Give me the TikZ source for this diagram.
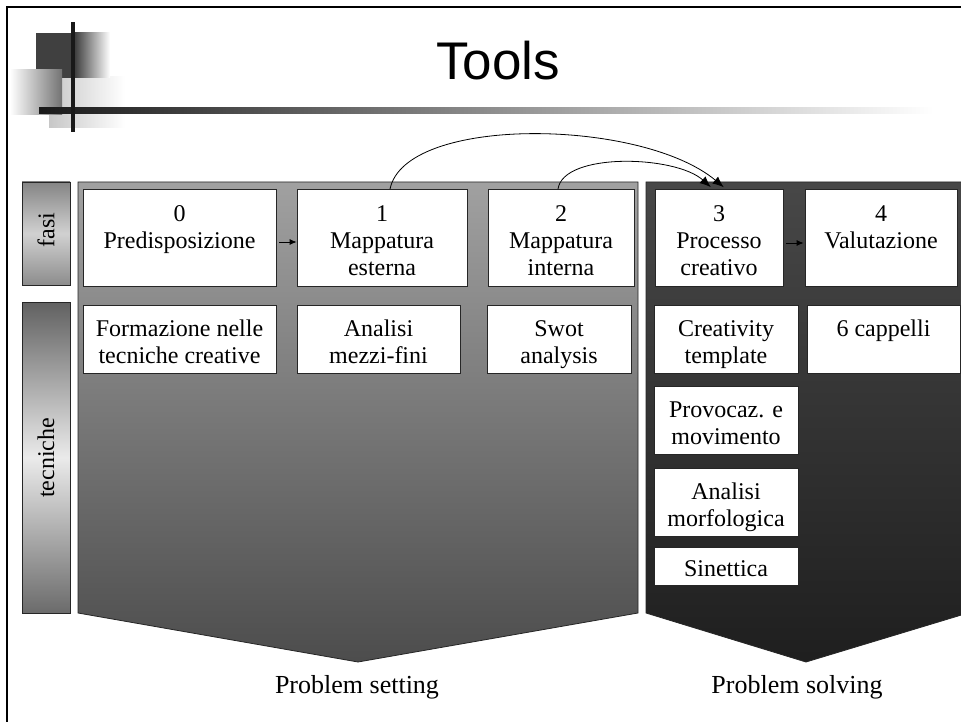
\documentclass[tikz,border=0pt]{standalone}
\usepackage{fontspec}
\setmainfont{Liberation Serif}
\newfontfamily\titlefont{Liberation Sans}
\usetikzlibrary{arrows.meta,shadings}
\newcommand{\myupstrut}{\rule{0pt}{27pt}}
\begin{document}
\begin{tikzpicture}[x=1pt,y=-1pt,
  box/.style={draw=black!85,fill=white,line width=0.8pt,inner sep=0pt,align=center,
    font=\fontsize{24}{27}\selectfont,execute at end node={\rule[-6pt]{0pt}{6pt}}},
  lbl/.style={font=\fontsize{26}{30}\selectfont},
  sidebox/.style={draw=black!85,line width=0.8pt},
  sidetext/.style={inner sep=0pt,font=\fontsize{24}{27}\selectfont,rotate=90},
  small arrow/.style={-{Latex[length=7pt,width=6pt]},line width=0.8pt},
  curve arrow/.style={-{Latex[length=11pt,width=9pt]},line width=0.8pt}]
\useasboundingbox (0,0) rectangle (961,722);
\fill[white] (0,0) rectangle (961,722);
% frame
\draw[line width=2.5pt] (7,730) -- (7,7) -- (970,7);
% logo
\shade[left color=black!22,right color=white] (49,77) rectangle (125,128);
\fill[black!75] (36,33) rectangle (75,78);
\shade[left color=black!75,right color=white] (75,33) rectangle (110,78);
\shade[left color=white,right color=black!55] (10,70) rectangle (62,115);
\shade[left color=black!90,right color=white] (39,108) rectangle (933,114);
\fill[black!90] (71,22) rectangle (75,132);
% title
\node[font=\titlefont\fontsize{53}{60}\selectfont,anchor=base] (title) at (498,80) {Tools};
% side labels
\shade[sidebox,top color=black!48,bottom color=black!45,middle color=black!18] (22,182) rectangle (70,285);
\shade[sidebox,top color=black!62,bottom color=black!58,middle color=black!8] (22,302) rectangle (70,613);
\draw[sidebox] (22,182) rectangle (70,285);
\draw[sidebox] (22,302) rectangle (70,613);
\node[sidetext] (fasi) at (46,230) {fasi};
\node[sidetext] (tec) at (46,458) {tecniche};
% panels
\draw[draw=black!85,line width=0.8pt,top color=black!37,bottom color=black!70]
  (78,182) -- (638,182) -- (638,613) -- (358,662) -- (78,613) -- cycle;
\draw[draw=black!85,line width=0.8pt,top color=black!72,bottom color=black!88]
  (646,182) -- (968,182) -- (968,613) -- (806,662) -- (646,613) -- cycle;
% phase boxes
\node[box,minimum width=193pt,minimum height=97pt] (b0) at (179.5,238) {\myupstrut 0\\Predisposizione\\\mbox{}};
\node[box,minimum width=170pt,minimum height=97pt] (b1) at (382,238) {\myupstrut 1\\Mappatura\\esterna};
\node[box,minimum width=146pt,minimum height=97pt] (b2) at (561,238) {\myupstrut 2\\Mappatura\\interna};
\node[box,minimum width=128pt,minimum height=97pt] (b3) at (719,238) {\myupstrut 3\\Processo\\creativo};
\node[box,minimum width=152pt,minimum height=97pt] (b4) at (881,238) {\myupstrut 4\\Valutazione\\\mbox{}};
% technique boxes
\node[box,minimum width=193pt,minimum height=68pt] (t0) at (179.5,339) {\myupstrut Formazione nelle\\tecniche creative};
\node[box,minimum width=163pt,minimum height=68pt] (t1) at (378.5,339) {\myupstrut Analisi\\mezzi-fini};
\node[box,minimum width=144pt,minimum height=68pt] (t2) at (559,339) {\myupstrut Swot\\analysis};
\node[box,minimum width=144pt,minimum height=68pt] (t3) at (726,339) {\myupstrut Creativity\\template};
\node[box,minimum width=153pt,minimum height=68pt] (t4) at (883.5,339) {\myupstrut 6 cappelli\\\mbox{}};
\node[box,minimum width=144pt,minimum height=68pt] (t5) at (726,420) {\myupstrut Provocaz. e\\movimento};
\node[box,minimum width=144pt,minimum height=68pt] (t6) at (726,502) {\myupstrut Analisi\\morfologica};
\node[box,minimum width=144pt,minimum height=38pt] (t7) at (726,566) {\myupstrut Sinettica};
% arrows
\draw[small arrow,shorten <=3pt] ([yshift=-4pt]b0.east) -- ([yshift=-4pt]b1.west);
\draw[small arrow,shorten <=3pt,shorten >=1pt] ([yshift=-5pt]b3.east) -- ([yshift=-5pt]b4.west);
\draw[curve arrow,shorten >=3pt] ([xshift=8pt]b1.north) .. controls +(15,-74) and +(-85,-71) .. ([xshift=7pt]b3.north);
\draw[curve arrow,shorten >=3pt] ([xshift=-3pt]b2.north) .. controls +(5,-37) and +(-38,-34) .. ([xshift=-6pt]b3.north);
% bottom labels
\node[lbl] (ps) at (357,687) {Problem setting};
\node[lbl] (psol) at (797,687) {Problem solving};
\end{tikzpicture}
\end{document}
